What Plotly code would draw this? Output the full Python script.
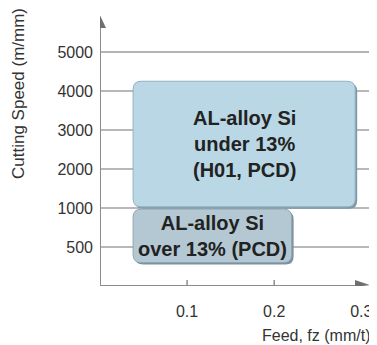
import numpy as np
import plotly.graph_objects as go

# ---- data ----
speed_ticks = [500, 1000, 2000, 3000, 4000, 5000]
feed_ticks = [0.1, 0.2, 0.3]
region_labels = ["AL-alloy Si<br>under 13%<br>(H01, PCD)", "AL-alloy Si<br>over 13% (PCD)"]
feed_min = [0.038, 0.038]
feed_max = [0.293, 0.220]
speed_min = [1030, 300]
speed_max = [4250, 985]

# non-linear (evenly spaced) speed scale
scale_vals = [0] + speed_ticks
scale_pos = list(range(len(scale_vals)))


def ypos(v):
    return float(np.interp(v, scale_vals, scale_pos))


fills = ["#b9d7e4", "#b4c8d3"]
edges = ["#93b2c2", "#8fa6b3"]
shadows = ["#7e98a7", "#7d919c"]

# page body has an 8px default margin; the figure is sized to fit the window
OFF = 8
W, H = 377 - OFF, 345 - OFF
ml, mr, mt, mb = 100 - OFF, 7, 13 - OFF, 59
xr = [0, 0.31]
yr = [0, 7]
pw = W - ml - mr
ph = H - mt - mb
px_x = (xr[1] - xr[0]) / pw   # data units per pixel
px_y = (yr[1] - yr[0]) / ph


def rrect(x0, x1, y0, y1, r=8):
    rx, ry = r * px_x, r * px_y
    return (f"M {x0+rx},{y0} L {x1-rx},{y0} Q {x1},{y0} {x1},{y0+ry} "
            f"L {x1},{y1-ry} Q {x1},{y1} {x1-rx},{y1} L {x0+rx},{y1} "
            f"Q {x0},{y1} {x0},{y1-ry} L {x0},{y0+ry} Q {x0},{y0} {x0+rx},{y0} Z")


shapes = []
# gridlines
for v in speed_ticks:
    light = v == speed_ticks[-1]
    shapes.append(dict(type="line", xref="x", yref="y", x0=0, x1=xr[1],
                       y0=ypos(v), y1=ypos(v), layer="below",
                       line=dict(color="#b4b4b4" if light else "#727272",
                                 width=2.2 if light else 1.2)))

# boxes
annotations = []
for i in range(len(region_labels)):
    x0, x1 = feed_min[i], feed_max[i]
    y0, y1 = ypos(speed_min[i]), ypos(speed_max[i])
    dx, dy = 2 * px_x, 2 * px_y
    shapes.append(dict(type="path", xref="x", yref="y",
                       path=rrect(x0 + dx, x1 + dx, y0 - dy, y1 - dy),
                       fillcolor=shadows[i], line=dict(width=0), layer="above"))
    shapes.append(dict(type="path", xref="x", yref="y",
                       path=rrect(x0, x1, y0, y1),
                       fillcolor=fills[i], line=dict(color=edges[i], width=1),
                       layer="above"))
    annotations.append(dict(x=(x0 + x1) / 2, y=(y0 + y1) / 2, xref="x", yref="y",
                            text=region_labels[i], showarrow=False,
                            font=dict(family="Liberation Sans, Arial", size=20,
                                      color="#222222", weight="bold")))

# axes lines with half arrows
axc = "#8c8c8c"
shapes.append(dict(type="line", xref="x", yref="y", x0=0, x1=0, y0=0, y1=yr[1] - 6 * px_y,
                   line=dict(color=axc, width=2)))
shapes.append(dict(type="line", xref="x", yref="y", x0=0, x1=xr[1] - 8 * px_x, y0=0, y1=0,
                   line=dict(color=axc, width=2)))
shapes.append(dict(type="path", xref="x", yref="y",
                   path=f"M {-1*px_x},{yr[1]} L {6*px_x},{yr[1]-15*px_y} L {-1*px_x},{yr[1]-15*px_y} Z",
                   fillcolor="#6f6f6f", line=dict(width=0)))
shapes.append(dict(type="path", xref="x", yref="y",
                   path=f"M {xr[1]},{1*px_y} L {xr[1]-15*px_x},{6*px_y} L {xr[1]-15*px_x},{-1*px_y} Z",
                   fillcolor="#6f6f6f", line=dict(width=0)))
# small x tick marks
for t in feed_ticks[:-1]:
    shapes.append(dict(type="line", xref="x", yref="y", x0=t, x1=t, y0=0, y1=6 * px_y,
                       line=dict(color=axc, width=1.5)))

# titles (window pixel positions)
title_y = dict(x=18, y=94, text="Cutting Speed (m/mm)", textangle=-90, xanchor="center", size=17)
title_x = dict(x=372, y=335, text="Feed, fz (mm/t)", textangle=0, xanchor="right", size=16)
for t in (title_y, title_x):
    annotations.append(dict(x=(t["x"] - OFF - ml) / pw, y=1 - (t["y"] - OFF - mt) / ph,
                            xref="paper", yref="paper", text=t["text"],
                            showarrow=False, textangle=t["textangle"],
                            xanchor=t["xanchor"], yanchor="middle",
                            font=dict(family="Liberation Sans, Arial", size=t["size"],
                                      color="#333333")))

fig = go.Figure()
fig.add_trace(go.Scatter(x=[None], y=[None], showlegend=False, hoverinfo="skip"))
fig.update_layout(
    width=W, height=H, margin=dict(l=ml, r=mr, t=mt, b=mb, autoexpand=False),
    paper_bgcolor="white", plot_bgcolor="white", showlegend=False,
    shapes=shapes, annotations=annotations,
    font=dict(family="Liberation Sans, Arial", size=16, color="#333333"),
)
fig.update_xaxes(range=xr, tickvals=feed_ticks, ticktext=[str(t) for t in feed_ticks],
                 showgrid=False, zeroline=False, showline=False, ticks="",
                 ticklabelstandoff=14, automargin=False, fixedrange=True)
fig.update_yaxes(range=yr, tickvals=[ypos(v) for v in speed_ticks],
                 ticktext=[str(v) for v in speed_ticks],
                 showgrid=False, zeroline=False, showline=False, ticks="",
                 ticklabelstandoff=6, automargin=False, fixedrange=True)

fig.write_html("out.html")
